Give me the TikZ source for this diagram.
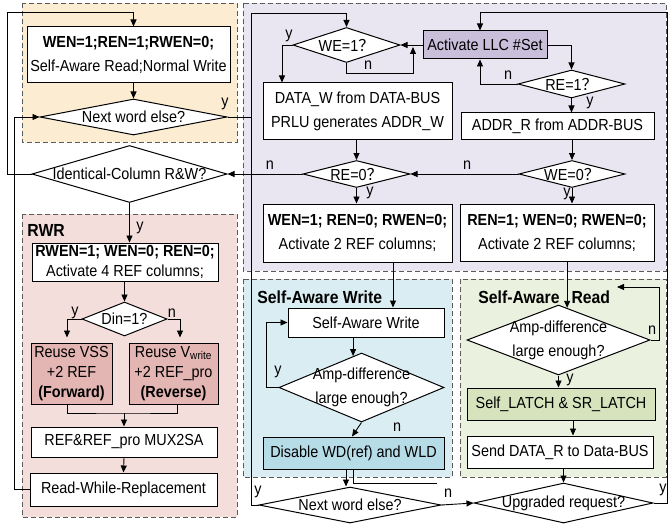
\documentclass[tikz,border=0pt]{standalone}
\usepackage{fontspec}
\setmainfont{Liberation Sans}[FakeStretch=0.9]
\newfontfamily\cjk{Noto Sans CJK SC}
\usetikzlibrary{arrows.meta, shapes.geometric, calc}
\definecolor{cgrey}{HTML}{5A5A5A}
\definecolor{cyel}{HTML}{FCEDD2}
\definecolor{clav}{HTML}{EAE6F1}
\definecolor{clavD}{HTML}{C9BFDB}
\definecolor{cpink}{HTML}{F3DEDC}
\definecolor{cpinkD}{HTML}{E3B6B3}
\definecolor{cblue}{HTML}{DAEDF3}
\definecolor{cblueD}{HTML}{B6DCE7}
\definecolor{cgreen}{HTML}{EBF1DF}
\definecolor{cgreenD}{HTML}{D6E3BD}
\tikzset{
  every picture/.style={font=\fontsize{16}{24}\selectfont, line width=0.9pt},
  box/.style={draw, fill=#1, align=center, inner sep=1pt, line width=1pt},
  box/.default=white,
  decision/.style={diamond, draw, fill=white, align=center, inner sep=0pt, line width=1pt},
  arrow/.style={-{Triangle[length=7pt, width=6pt]}, line width=0.9pt},
  panel/.style={draw=cgrey, fill=#1, dash pattern=on 5pt off 3pt, line width=0.8pt},
  title/.style={font=\fontsize{17.5}{20}\selectfont\bfseries, anchor=west, inner sep=0pt},
  tight/.style={font=\fontsize{16}{20}\selectfont},
  yn/.style={inner sep=0pt},
  size/.style 2 args={minimum width=#1pt, minimum height=#2pt},
}
\newcommand{\dtx}[1]{\makebox[0pt]{#1}}

\begin{document}
\begin{tikzpicture}[x=1pt, y=-1pt]
  \useasboundingbox (0,0) rectangle (669,524);
  % panels
  \foreach \c/\xa/\ya/\xb/\yb in {cyel/22/3/237/142, clav/243/3/666/271, cpink/22/214/237/517, cblue/243/279/452/477, cgreen/460/279/666/477}
    \draw[panel=\c] (\xa,\ya) rectangle (\xb,\yb);
  \node[title] (trwr) at (27,230) {RWR};
  \node[title] (tsaw) at (257,297) {Self-Aware Write};
  \node[title] (tsar) at (478,297) {Self-Aware\hspace{12pt}Read};
  % normal read and write
  \node[box, size={203}{56}] (swr) at (128.5,55) {\textbf{WEN=1;REN=1;RWEN=0;}\\Self-Aware Read;Normal Write};
  \node[decision, size={187}{36}] (nwe1) at (133.5,117) {\dtx{Next word else?}};
  \node[decision, size={195}{57}] (idc) at (129.5,174) {\dtx{Identical-Column R\&W?}};
  % request decoding
  \node[box=clavD, size={124}{28}] (act) at (485,45) {Activate LLC \#Set};
  \node[decision, size={107}{35}] (we1) at (346.5,45) {\dtx{WE=1\cjk{？}}};
  \node[decision, size={107}{28}] (re1) at (571.5,84) {\dtx{RE=1\cjk{？}}};
  \node[box, size={189}{57}] (dataw) at (357.5,111.5) {DATA\_W from DATA-BUS\\PRLU generates ADDR\_W};
  \node[box, size={193}{27}] (addrr) at (557.5,126.5) {ADDR\_R from ADDR-BUS};
  \node[decision, size={107}{27}] (re0) at (356.5,174) {\dtx{RE=0\cjk{？}}};
  \node[decision, size={106}{27}] (we0) at (572,174) {\dtx{WE=0\cjk{？}}};
  \node[box, size={189}{58}] (wrb) at (357.5,233) {\textbf{WEN=1; REN=0; RWEN=0;}\\Activate 2 REF columns;};
  \node[box, size={194}{57}] (rdb) at (557,232.5) {\textbf{REN=1; WEN=0; RWEN=0;}\\Activate 2 REF columns;};
  % RWR
  \node[box, size={186}{38}, tight] (rwen) at (125,262) {\textbf{RWEN=1; WEN=0; REN=0;}\\Activate 4 REF columns;};
  \node[decision, size={85}{34}] (din) at (124.5,319) {\dtx{Din=1?}};
  \node[box=cpinkD, size={81}{61}, tight] (vss) at (71.5,373.5) {Reuse VSS\\+2 REF\\\textbf{(Forward)}};
  \node[box=cpinkD, size={89}{61}, tight] (vwr) at (173.5,373.5) {Reuse V\textsubscript{write}\\+2 REF\_pro\\\textbf{(Reverse)}};
  \node[box, size={186}{30}] (mux) at (124,442) {REF\&REF\_pro MUX2SA};
  \node[box, size={187}{33}] (rwr) at (123.5,489.5) {Read-While-Replacement};
  % self-aware write
  \node[box, size={156}{29}] (saw) at (366,322.5) {Self-Aware Write};
  \node[decision, size={165}{69}] (ampw) at (361.5,387.5) {\dtx{Amp-difference}\\\dtx{large enough?}};
  \node[box=cblueD, size={181}{32}] (dis) at (353.5,453) {Disable WD(ref) and WLD};
  \node[decision, size={182}{36}] (nwe2) at (350,505) {\dtx{Next word else?}};
  % self-aware read
  \node[decision, size={183}{70}] (ampr) at (558.5,340) {\dtx{Amp-difference}\\\dtx{large enough?}};
  \node[box=cgreenD, size={188}{32}] (latch) at (561,404) {Self\_LATCH \& SR\_LATCH};
  \node[box, size={186}{32}] (send) at (560,452) {Send DATA\_R to Data-BUS};
  \node[decision, size={179}{40}] (upg) at (563.5,503) {\dtx{Upgraded request?}};
  % route corners
  \coordinate (loopA) at (7,12);
  \coordinate (busT) at (251,13);
  \coordinate (busR) at (667,12);
  \coordinate (we1n) at (413,47);
  \coordinate (ampn) at (617,287);
  \coordinate (stub) at (437,483);
  \coordinate (merge) at (124,413);
  % connectors
  \draw[arrow] (nwe1.north |- swr.south) -- (nwe1.north);
  \draw[arrow] (idc.west) -| (loopA) -| (nwe1.north |- swr.north);
  \draw[arrow] (rwr.west) -- ++(-15,0) |- (nwe1.west);
  \draw (nwe1.east) -- (nwe1.east -| busT);
  \draw[arrow] (nwe2.west) -| (busT) -| (we1.north);
  \draw[arrow] (act.west) -- (we1.east);
  \draw[arrow] (we1.south) -- ++(0,10) -| (we1n);
  \draw[arrow] (we1.west) -| ([xshift=-75.5pt]dataw.north);
  \draw[arrow] (re0.north |- dataw.south) -- (re0.north);
  \draw[arrow] (re0.west) -- (idc.east);
  \draw[arrow] (re0.south) -- (re0.south |- wrb.north);
  \draw[arrow] (act.east) -| (re1.north);
  \draw[arrow] (re1.west) -| ([xshift=-5pt]act.south);
  \draw[arrow] (re1.south) -- (re1.south |- addrr.north);
  \draw[arrow] (we0.north |- addrr.south) -- (we0.north);
  \draw[arrow] (we0.west) -- (re0.east);
  \draw[arrow] (we0.south) -- (we0.south |- rdb.north);
  \draw[arrow] ([xshift=35.5pt]wrb.south) -- ([xshift=35.5pt]wrb.south |- saw.north);
  \draw[arrow] (ampw.105 |- saw.south) -- (ampw.105);
  \draw[arrow] (ampw.west) -- ++(-12,0) |- (saw.west);
  \draw[arrow] (ampw.south) -- ([xshift=-1.5pt]dis.north);
  \draw[arrow] ([xshift=-7.5pt]dis.south) -- ([xshift=-7.5pt]dis.south |- nwe2.north);
  \draw (dis.south) |- (stub);
  \draw[arrow] (nwe2.east) -- (upg.west);
  \draw[arrow] (ampr.75 |- rdb.south) -- (ampr.75);
  \draw[arrow] (ampr.east) -- ++(9,0) |- (ampn);
  \draw[arrow] (ampr.south) -- (ampr.south |- latch.north);
  \draw[arrow] ([xshift=12pt]latch.south) -- ([xshift=12pt]latch.south |- send.north);
  \draw[arrow] (upg.north |- send.south) -- (upg.north);
  \draw[arrow] (upg.east) -| (busR) -| ([xshift=-5pt]act.north);
  \draw[arrow] (idc.south) -- (idc.south |- rwen.north);
  \draw[arrow] (din.north |- rwen.south) -- (din.north);
  \draw[arrow] (din.west) -| ([xshift=-4.5pt, yshift=5pt]vss.north);
  \draw[arrow] (din.east) -| ([xshift=6.5pt, yshift=5pt]vwr.north);
  \draw ([xshift=-4.5pt]vss.south) |- (merge) -| ([xshift=3.5pt]vwr.south);
  \draw[arrow] (merge) -- (mux.north);
  \draw[arrow] (mux.south) -- (rwr.north);
  % y/n labels
  \foreach \lab/\x/\y [count=\i] in {y/289/36, n/368/65, n/508/75, y/590/103, n/270/165, y/370/193, n/467/165, y/567/194, y/225/104, y/140/228, y/75/313, n/172/313, y/278/372, n/397/427, y/258/492, n/448/493, n/652/330, y/570/380, y/663/490}
    \node[yn] (yn\i) at (\x,\y) {\lab};
\end{tikzpicture}
\end{document}
